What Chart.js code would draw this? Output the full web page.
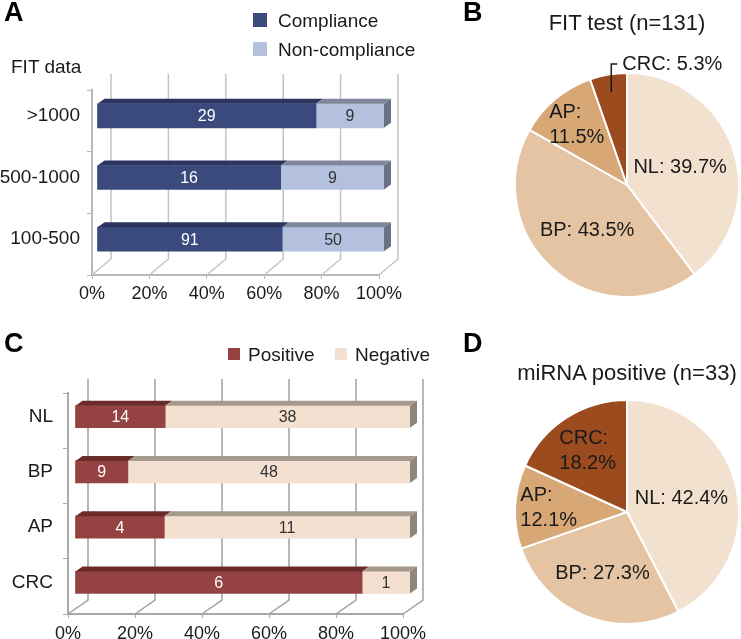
<html>
  <head>
    <title>FIT and miRNA results</title>
    <style>
      body { margin: 0; background: #fff; font-family: "Liberation Sans", Arial, sans-serif; }
      .wrap { position: relative; width: 741px; height: 639px; overflow: hidden; }
      canvas { position: absolute; }
      .txt { position: absolute; white-space: nowrap; color: #1a1a1a; line-height: 1; }
      .letter { font-weight: bold; font-size: 27px; color: #000; }
      .key { position: absolute; }
      .title { font-size: 22px; width: 320px; text-align: center; }
    </style>
    <script src="https://cdn.jsdelivr.net/npm/chart.js"></script>
  </head>
  <body>
    <div class="wrap">
      <canvas id="chartA" width="440" height="310" style="left:0;top:0"></canvas>
      <canvas id="chartC" width="440" height="329" style="left:0;top:310px"></canvas>
      <canvas id="chartB" width="321" height="310" style="left:420px;top:0"></canvas>
      <canvas id="chartD" width="321" height="329" style="left:420px;top:310px"></canvas>

      <div class="txt letter" style="left:4px;top:-1px">A</div>
      <div class="txt letter" style="left:463px;top:-1px">B</div>
      <div class="txt letter" style="left:4px;top:330px">C</div>
      <div class="txt letter" style="left:463px;top:330px">D</div>

      <div class="txt" style="left:11px;top:57px;font-size:19px">FIT data</div>
      <div id="legendA"></div>
      <div id="legendC"></div>

      <div class="txt title" style="left:467px;top:12px">FIT test (n=131)</div>
      <div class="txt title" style="left:467px;top:362px">miRNA positive (n=33)</div>
    </div>

    <script>
      // panel A: FIT compliance by level
      const fitLevels = ['>1000', '500-1000', '100-500'];
      const compliance = [29, 16, 91];
      const nonCompliance = [9, 9, 50];

      // panel C: miRNA result by diagnosis
      const groups = ['NL', 'BP', 'AP', 'CRC'];
      const positive = [14, 9, 4, 6];
      const negative = [38, 48, 11, 1];

      // panels B and D: diagnosis counts
      const fitByGroup = [52, 57, 15, 7];     // FIT test, n=131
      const mirnaByGroup = [14, 9, 4, 6];     // miRNA positive, n=33

      const pctTicks = [0, 20, 40, 60, 80, 100];
      const pieColors = ['#f3e1cf', '#e4c4a2', '#d8a776', '#9b4b1e'];
      const FONT = '"Liberation Sans", Arial, sans-serif';

      function share(a, b) {
        return a.map((v, i) => v / (v + b[i]) * 100);
      }

      // legend boxes (html)
      function legend(el, items, top, left, box, size, rowGap, colGap) {
        let html = '';
        items.forEach((it, i) => {
          const t = top + (colGap ? 0 : i * rowGap);
          const l = left + (colGap ? i * colGap : 0);
          html += '<div class="key" style="left:' + l + 'px;top:' + t + 'px;width:' + box + 'px;height:' + box + 'px;background:' + it.color + '"></div>';
          html += '<div class="txt" style="font-size:' + size + 'px;left:' + (l + box + (colGap ? 8 : 11)) + 'px;top:' + (t + box / 2 - size / 2) + 'px">' + it.text + '</div>';
        });
        document.getElementById(el).innerHTML = html;
      }
      legend('legendA', [{text: 'Compliance', color: '#3a4a7d'}, {text: 'Non-compliance', color: '#b3c1de'}], 13, 253, 14, 19, 29, 0);
      legend('legendC', [{text: 'Positive', color: '#954242'}, {text: 'Negative', color: '#f3e0d1'}], 348, 228, 12, 19, 0, 107);

      // fake-3d bars: back grid, shifted front faces, top and side faces, value labels
      function bar3d(o) {
        return {
          id: 'bar3d',
          beforeDatasetsDraw(chart) {
            const ctx = chart.ctx, xs = chart.scales.x, a = chart.chartArea;
            ctx.save();
            ctx.strokeStyle = o.grid;
            ctx.lineWidth = 1.5;
            pctTicks.forEach(v => {
              const px = xs.getPixelForValue(v);
              ctx.beginPath();
              ctx.moveTo(px, a.bottom);
              ctx.lineTo(px + o.back[0], a.bottom + o.back[1]);
              ctx.lineTo(px + o.back[0], a.top + o.back[1]);
              ctx.stroke();
            });
            ctx.restore();
            ctx.save();
            ctx.translate(o.shift[0], o.shift[1]);
          },
          afterDatasetsDraw(chart) {
            const ctx = chart.ctx;
            const n = chart.data.datasets.length;
            const dx = o.depth[0], dy = o.depth[1];
            chart.data.datasets.forEach((ds, di) => {
              chart.getDatasetMeta(di).data.forEach((bar, i) => {
                const p = bar.getProps(['x', 'y', 'base', 'height'], true);
                const t = p.y - p.height / 2, b = p.y + p.height / 2;
                ctx.fillStyle = o.topColors[di];
                ctx.beginPath();
                ctx.moveTo(p.base, t);
                ctx.lineTo(p.base + dx, t + dy);
                ctx.lineTo(p.x + dx, t + dy);
                ctx.lineTo(p.x, t);
                ctx.closePath();
                ctx.fill();
                if (di === n - 1) {
                  ctx.fillStyle = o.side;
                  ctx.beginPath();
                  ctx.moveTo(p.x, t);
                  ctx.lineTo(p.x + dx, t + dy);
                  ctx.lineTo(p.x + dx, b + dy);
                  ctx.lineTo(p.x, b);
                  ctx.closePath();
                  ctx.fill();
                }
                ctx.fillStyle = o.labelColors[di];
                ctx.font = '16px ' + FONT;
                ctx.textAlign = 'center';
                ctx.textBaseline = 'middle';
                ctx.fillText(ds.counts[i], (p.base + p.x) / 2, p.y + 1);
              });
            });
            ctx.restore();
          }
        };
      }

      function barChart(id, labels, sets, o) {
        new Chart(document.getElementById(id), {
          type: 'bar',
          data: {
            labels: labels,
            datasets: sets.map(s => ({
              label: s.label,
              data: s.pct,
              counts: s.counts,
              backgroundColor: s.color,
              borderWidth: 0,
              barThickness: o.thickness
            }))
          },
          options: {
            indexAxis: 'y',
            responsive: false,
            animation: false,
            layout: { padding: o.padding },
            plugins: { legend: { display: false }, tooltip: { enabled: false } },
            scales: {
              x: {
                stacked: true,
                min: 0,
                max: 100,
                afterFit: s => { s.height = o.xHeight; },
                afterBuildTicks: s => { s.ticks = pctTicks.map(v => ({ value: v })); },
                ticks: { callback: v => v + '%', color: '#1a1a1a', padding: o.xPad, font: { size: 18, family: FONT } },
                grid: { drawOnChartArea: false, tickLength: 4, color: o.axis },
                border: { color: o.axis, width: 2 }
              },
              y: {
                stacked: true,
                afterFit: s => { s.width = o.yWidth; },
                ticks: { color: '#1a1a1a', padding: o.yPad, labelOffset: o.shift[1], font: { size: 19, family: FONT } },
                grid: { drawOnChartArea: false, tickLength: 5, color: o.axis },
                border: { color: o.axis, width: 2 }
              }
            }
          },
          plugins: [bar3d(o)]
        });
      }

      barChart('chartA', fitLevels, [
        { label: 'Compliance', pct: share(compliance, nonCompliance), counts: compliance, color: '#3a4a7d' },
        { label: 'Non-compliance', pct: share(nonCompliance, compliance), counts: nonCompliance, color: '#b3c1de' }
      ], {
        thickness: 24, padding: { top: 90, right: 61, left: 0, bottom: 0 },
        xHeight: 35, yWidth: 92, xPad: 4, yPad: 7,
        shift: [5, -5], depth: [7, -5], back: [19, -16],
        grid: '#c4c4c4', axis: '#b8b8b8',
        topColors: ['#2c3560', '#7e8699'], side: '#6a7284',
        labelColors: ['#ffffff', '#333333']
      });

      barChart('chartC', groups, [
        { label: 'Positive', pct: share(positive, negative), counts: positive, color: '#954242' },
        { label: 'Negative', pct: share(negative, positive), counts: negative, color: '#f3e0d1' }
      ], {
        thickness: 22, padding: { top: 83, right: 37, left: 0, bottom: 0 },
        xHeight: 25, yWidth: 68, xPad: 5, yPad: 10,
        shift: [7, -4], depth: [7, -5], back: [20, -14],
        grid: '#a0a0a0', axis: '#a8a8a8',
        topColors: ['#6c2b2b', '#a69a8e'], side: '#8f857a',
        labelColors: ['#ffffff', '#333333']
      });

      // pie labels: inside at a radius fraction, two-line ones left aligned, one outside with a leader
      function pieLabels(o) {
        return {
          id: 'pieLabels',
          afterDatasetsDraw(chart) {
            const ctx = chart.ctx, ds = chart.data.datasets[0];
            const total = ds.data.reduce((s, v) => s + v, 0);
            ctx.save();
            ctx.font = '20px ' + FONT;
            ctx.fillStyle = '#1a1a1a';
            ctx.strokeStyle = '#1a1a1a';
            ctx.textBaseline = 'middle';
            chart.getDatasetMeta(0).data.forEach((arc, i) => {
              const p = arc.getProps(['x', 'y', 'startAngle', 'endAngle', 'outerRadius'], true);
              const mid = (p.startAngle + p.endAngle) / 2;
              const name = chart.data.labels[i] + ':';
              const pct = (ds.data[i] / total * 100).toFixed(1) + '%';
              const f = o.radius[i];
              const cx = p.x + Math.cos(mid) * p.outerRadius * f;
              const cy = p.y + Math.sin(mid) * p.outerRadius * f;
              if (o.outside[i]) {
                const ty = p.y - p.outerRadius - 9;
                ctx.lineWidth = 1.5;
                ctx.beginPath();
                ctx.moveTo(cx, cy);
                ctx.lineTo(cx, ty);
                ctx.lineTo(cx + 6, ty);
                ctx.stroke();
                ctx.textAlign = 'left';
                ctx.fillText(name + ' ' + pct, cx + 11, ty);
              } else if (o.wrap[i]) {
                const w = Math.max(ctx.measureText(name).width, ctx.measureText(pct).width);
                ctx.textAlign = 'left';
                ctx.fillText(name, cx - w / 2, cy - 12.5);
                ctx.fillText(pct, cx - w / 2, cy + 12.5);
              } else {
                ctx.textAlign = 'center';
                ctx.fillText(name + ' ' + pct, cx, cy);
              }
            });
            ctx.restore();
          }
        };
      }

      function pieChart(id, values, padding, o) {
        new Chart(document.getElementById(id), {
          type: 'pie',
          data: {
            labels: groups,
            datasets: [{ data: values, backgroundColor: pieColors, borderColor: '#ffffff', borderWidth: 2 }]
          },
          options: {
            responsive: false,
            animation: false,
            layout: { padding: padding },
            plugins: { legend: { display: false }, tooltip: { enabled: false } }
          },
          plugins: [pieLabels(o)]
        });
      }

      pieChart('chartB', fitByGroup, { left: 94, right: 1, top: 72, bottom: 12 }, {
        radius: [0.5, 0.54, 0.7, 0.84],
        wrap: [false, false, true, false],
        outside: [false, false, false, true]
      });

      pieChart('chartD', mirnaByGroup, { left: 94, right: 1, top: 89, bottom: 14 }, {
        radius: [0.5, 0.59, 0.7, 0.65],
        wrap: [false, false, true, true],
        outside: [false, false, false, false]
      });
    </script>
  </body>
</html>
